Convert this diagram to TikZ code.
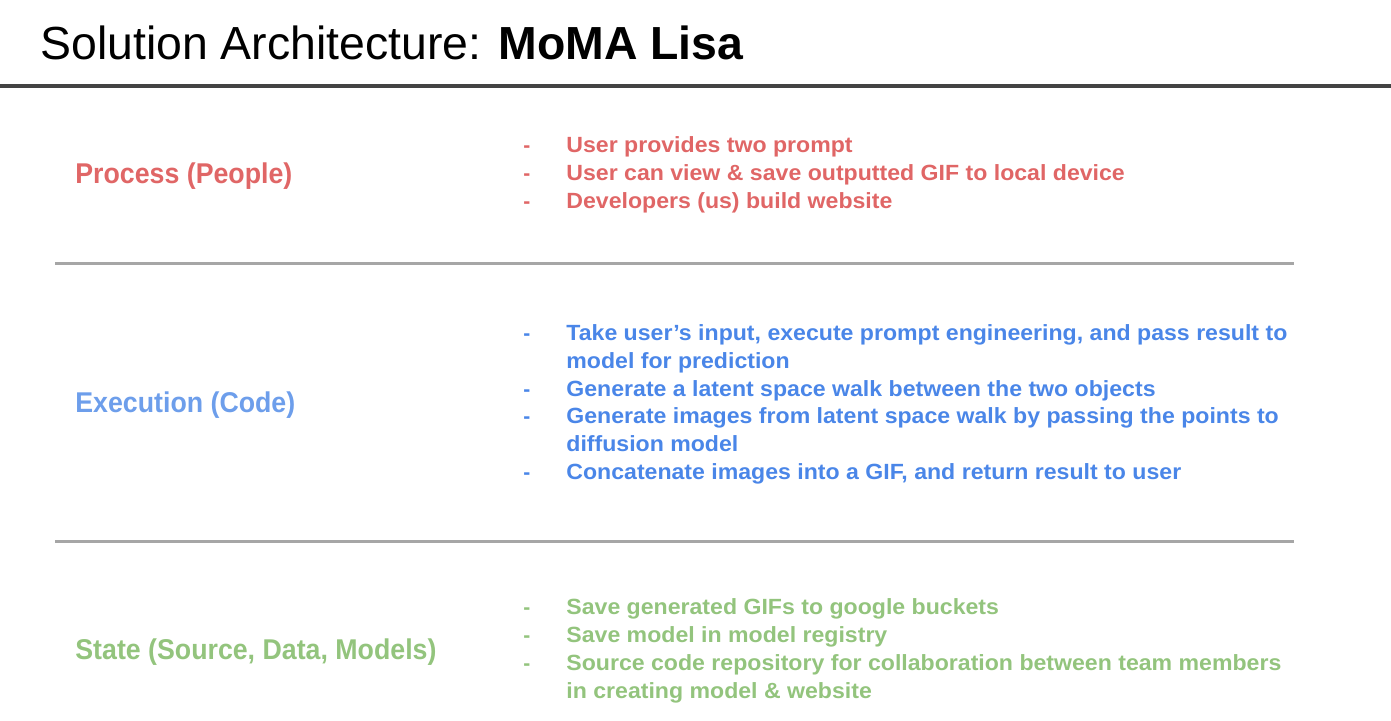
\documentclass[tikz,border=0pt]{standalone}
\usepackage{fontspec}
\setmainfont{Liberation Sans}
\newfontfamily\headfont[FakeStretch=0.935]{Liberation Sans}
\newfontfamily\itemfont[FakeStretch=1.05]{Liberation Sans}
\definecolor{procred}{HTML}{E06666}
\definecolor{execlight}{HTML}{6D9EEB}
\definecolor{execdark}{HTML}{4A86E8}
\definecolor{stategreen}{HTML}{93C47D}
\definecolor{rulegray}{HTML}{A6A6A6}
\definecolor{topgray}{HTML}{434343}
\begin{document}
\begin{tikzpicture}[x=0.5pt,y=-0.5pt,
    heading/.style={anchor=base west, inner sep=0pt, font=\headfont\fontsize{14.3}{17}\selectfont\bfseries},
    bulletdash/.style={anchor=base west, inner sep=0pt, font=\fontsize{10.5}{14}\selectfont\bfseries},
    bullettext/.style={anchor=base west, inner sep=0pt, font=\itemfont\fontsize{11}{14}\selectfont\bfseries}]
    \useasboundingbox (0,0) rectangle (1391,720);

    % Title and top rule
    \node[anchor=base west, inner sep=0pt, font=\fontsize{23.2}{26}\selectfont] (title) at (40,59)
        {Solution Architecture: \textbf{MoMA Lisa}};
    \coordinate (topl) at (0,86);
    \coordinate (topr) at (1391,86);
    \draw[topgray, line width=2pt] (topl) -- (topr);

    % Process (People)
    \node[heading, procred] (process) at (75,183) {Process (People)};
    \node[bulletdash, procred] (pd1) at (523,152) {-};
    \node[bullettext, procred] (p1) at (566,152) {User provides two prompt};
    \node[bulletdash, procred] (pd2) at (523,180) {-};
    \node[bullettext, procred] (p2) at (566,180) {User can view \& save outputted GIF to local device};
    \node[bulletdash, procred] (pd3) at (523,208) {-};
    \node[bullettext, procred] (p3) at (566,208) {Developers (us) build website};

    % Separator
    \coordinate (sep1l) at (55,263);
    \coordinate (sep1r) at (1294,263);
    \draw[rulegray, line width=1.5pt] (sep1l) -- (sep1r);

    % Execution (Code)
    \node[heading, execlight] (execution) at (75,412) {Execution (Code)};
    \node[bulletdash, execdark] (ed1) at (523,340) {-};
    \node[bullettext, execdark] (e1) at (566,340) {Take user’s input, execute prompt engineering, and pass result to};
    \node[bullettext, execdark] (e1b) at (566,368) {model for prediction};
    \node[bulletdash, execdark] (ed2) at (523,396) {-};
    \node[bullettext, execdark] (e2) at (566,396) {Generate a latent space walk between the two objects};
    \node[bulletdash, execdark] (ed3) at (523,423) {-};
    \node[bullettext, execdark] (e3) at (566,423) {Generate images from latent space walk by passing the points to};
    \node[bullettext, execdark] (e3b) at (566,451) {diffusion model};
    \node[bulletdash, execdark] (ed4) at (523,479) {-};
    \node[bullettext, execdark] (e4) at (566,479) {Concatenate images into a GIF, and return result to user};

    % Separator
    \coordinate (sep2l) at (55,541);
    \coordinate (sep2r) at (1294,541);
    \draw[rulegray, line width=1.5pt] (sep2l) -- (sep2r);

    % State (Source, Data, Models)
    \node[heading, stategreen] (state) at (75,659) {State (Source, Data, Models)};
    \node[bulletdash, stategreen] (sd1) at (523,614) {-};
    \node[bullettext, stategreen] (s1) at (566,614) {Save generated GIFs to google buckets};
    \node[bulletdash, stategreen] (sd2) at (523,642) {-};
    \node[bullettext, stategreen] (s2) at (566,642) {Save model in model registry};
    \node[bulletdash, stategreen] (sd3) at (523,670) {-};
    \node[bullettext, stategreen] (s3) at (566,670) {Source code repository for collaboration between team members};
    \node[bullettext, stategreen] (s3b) at (566,698) {in creating model \& website};
\end{tikzpicture}
\end{document}
